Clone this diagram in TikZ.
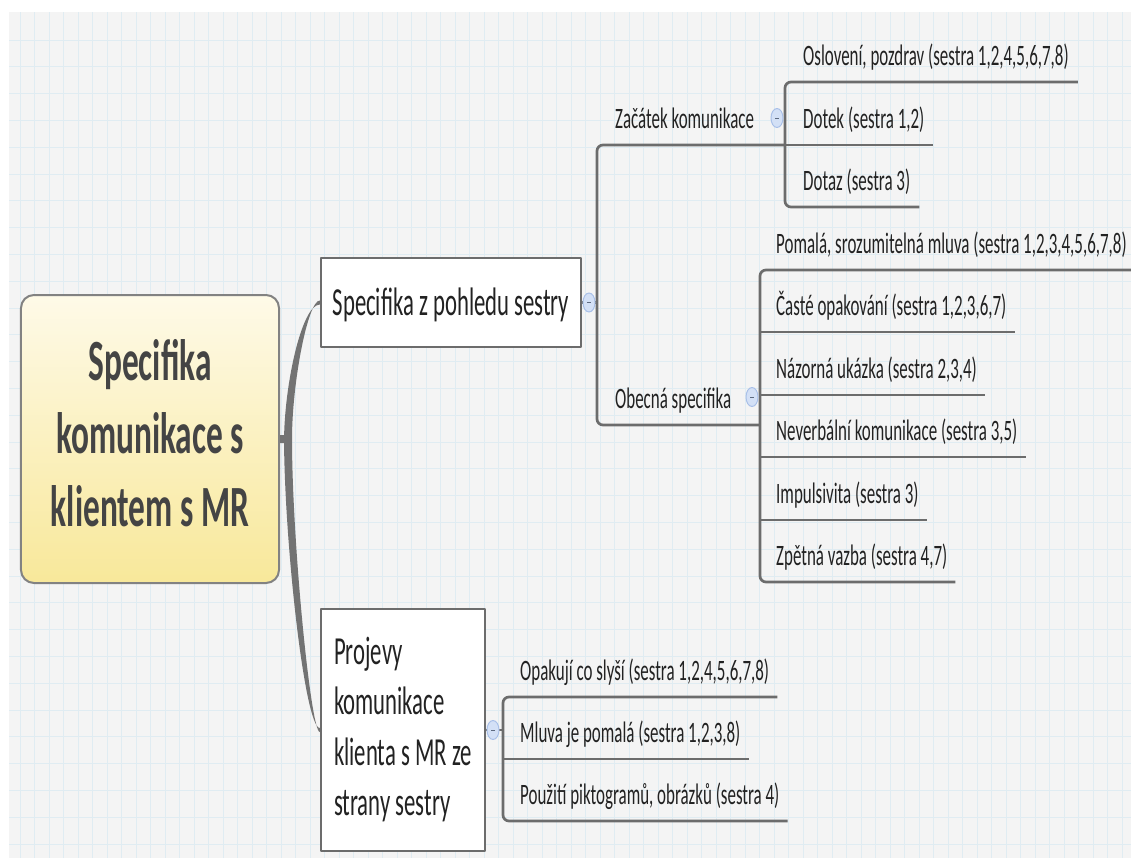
\documentclass[tikz,border=0pt]{standalone}
\usepackage{fontspec}
\setmainfont{Carlito}
\usepackage{graphicx}
\usetikzlibrary{shapes.geometric}
\definecolor{paper}{HTML}{F4F4F4}
\definecolor{gridcol}{HTML}{E0ECF2}
\definecolor{linecol}{HTML}{6C6C6C}
\definecolor{inkcol}{HTML}{222222}
\definecolor{rootink}{HTML}{444444}
\definecolor{roottop}{HTML}{FEFAE8}
\definecolor{rootbot}{HTML}{F8E89A}
\definecolor{dotfill}{HTML}{D3E0F6}
\definecolor{dotline}{HTML}{A9C0E8}
\newcommand{\vstretch}[1]{\scalebox{1}[1.75]{#1}}

\begin{document}
\begin{tikzpicture}[x=1bp,y=-1bp,line join=round,
  gridline/.style={gridcol,line width=1bp},
  trunk/.style={fill=linecol!95},
  branch/.style={linecol,line width=2.7bp,rounded corners=6bp},
  rootbox/.style={draw=linecol!85,line width=2bp,rounded corners=13bp,top color=roottop,bottom color=rootbot,
    minimum width=258bp,minimum height=288bp,text=rootink,font=\fontsize{33.5}{42}\selectfont\bfseries},
  topbox/.style={draw=linecol,line width=2.4bp,fill=white,text=inkcol,font=\fontsize{22.8}{29}\selectfont},
  sub/.style={anchor=south west,inner xsep=0pt,inner ysep=16.4bp,text height=19.2bp,text depth=0pt,
    text=inkcol,font=\fontsize{17}{20}\selectfont},
  fold/.style={ellipse,draw=dotline,fill=dotfill,line width=1bp,minimum width=12bp,minimum height=19bp,inner sep=0pt}]
  \useasboundingbox (0,0) rectangle (1131,861);
  \fill[white] (0,0) rectangle (1131,861);
  \fill[paper] (9,12) rectangle (1131,858);
  \foreach \gx in {20,34.5,...,1131} \draw[gridline] (\gx,12) -- (\gx,858);
  \foreach \gy in {40,66.8,...,858} \draw[gridline] (9,\gy) -- (1131,\gy);
%%
  % Node: root
  \node[rootbox] (root) at (150,439) {\vstretch{\begin{tabular}{@{}c@{}}Specifika\\komunikace s\\klientem s MR\end{tabular}}};
  % Node: Specifika z pohledu sestry
  \node[topbox,minimum width=260bp,minimum height=89bp,text height=25.7bp,text depth=0pt] (spec) at (451,302.5)
    {\vstretch{Specifika z pohledu sestry}};
  % Node: Projevy komunikace
  \node[topbox,minimum width=164bp,minimum height=242bp] (proj) at (403,730)
    {\vstretch{\begin{tabular}{@{}l@{}}Projevy\\komunikace\\klienta s MR ze\\strany sestry\end{tabular}}};
  % bracket columns
  \coordinate (fork) at (288,439);
  \coordinate (sbr) at (597,0);
  \coordinate (zbr) at (785,0);
  \coordinate (obr) at (760,0);
  \coordinate (pbr) at (503,0);
  % Node: Zacatek komunikace, Obecna specifika
  \node[sub] (zac) at (615,145) {\vstretch{Začátek komunikace}};
  \node[sub] (obec) at (615,425) {\vstretch{Obecná specifika}};
  % Node: Zacatek children
  \node[sub] (osl) at (803,82) {\vstretch{Oslovení, pozdrav (sestra 1,2,4,5,6,7,8)}};
  \node[sub] (dotek) at (803,145) {\vstretch{Dotek (sestra 1,2)}};
  \node[sub] (dotaz) at (803,207) {\vstretch{Dotaz (sestra 3)}};
  % Node: Obecna children
  \node[sub] (pomala) at (776,270) {\vstretch{Pomalá, srozumitelná mluva (sestra 1,2,3,4,5,6,7,8)}};
  \node[sub] (caste) at (776,332) {\vstretch{Časté opakování (sestra 1,2,3,6,7)}};
  \node[sub] (nazorna) at (776,395) {\vstretch{Názorná ukázka (sestra 2,3,4)}};
  \node[sub] (never) at (776,457) {\vstretch{Neverbální komunikace (sestra 3,5)}};
  \node[sub] (impuls) at (776,520) {\vstretch{Impulsivita (sestra 3)}};
  \node[sub] (zpetna) at (776,582) {\vstretch{Zpětná vazba (sestra 4,7)}};
  % Node: Projevy children
  \node[sub] (opak) at (520,697) {\vstretch{Opakují co slyší (sestra 1,2,4,5,6,7,8)}};
  \node[sub] (mluva) at (520,759) {\vstretch{Mluva je pomalá (sestra 1,2,3,8)}};
  \node[sub] (pouziti) at (520,821) {\vstretch{Použití piktogramů, obrázků (sestra 4)}};
%%
  % Edge: root -> spec, root -> proj (tapered)
  \fill[trunk] ([yshift=-4bp]root.east) -- ([xshift=-4bp,yshift=-4bp]fork)
    .. controls +(0,-58) and +(-18,0) .. ([yshift=-2bp]spec.west) -- ([yshift=2bp]spec.west)
    .. controls +(-12,0) and +(0,-56) .. ([xshift=4bp]fork)
    .. controls +(0,102) and +(-9,0) .. ([yshift=-2bp]proj.west) -- ([yshift=2bp]proj.west)
    .. controls +(-15,0) and +(0,106) .. ([xshift=-4bp,yshift=4bp]fork) -- ([yshift=4bp]root.east) -- cycle;
  % Edge: spec -> zac, obec
  \draw[branch] (spec.east) -- (sbr |- spec.east);
  \draw[branch] (zac.south -| zbr) -- (zac.south -| sbr) -- (obec.south -| sbr) -- (obec.south -| obr);
  % Edge: zac -> osl, dotek, dotaz
  \draw[branch] ([xshift=9bp]osl.south east) -- (osl.south -| zbr) -- (dotaz.south -| zbr) -- ([xshift=9bp]dotaz.south east);
  \draw[branch] (dotek.south -| zbr) -- ([xshift=8bp]dotek.south east);
  % Edge: obec -> children
  \draw[branch] ([xshift=8bp]pomala.south east) -- (pomala.south -| obr) -- (zpetna.south -| obr) -- ([xshift=8bp]zpetna.south east);
  \foreach \n in {caste,nazorna,never,impuls}
    \draw[branch] (\n.south -| obr) -- ([xshift=8bp]\n.south east);
  % Edge: proj -> children
  \draw[branch] (proj.east) -- (pbr |- proj.east);
  \draw[branch] ([xshift=8bp]opak.south east) -- (opak.south -| pbr) -- (pouziti.south -| pbr) -- ([xshift=8bp]pouziti.south east);
  \draw[branch] (mluva.south -| pbr) -- ([xshift=8bp]mluva.south east);
  % Node: fold markers
  \node[fold] (specdot) at (589,302.5) {\color{dotline!55!black}\rule{4bp}{0.9bp}};
  \node[fold] (zacdot) at (777,118) {\color{dotline!55!black}\rule{4bp}{0.9bp}};
  \node[fold] (obecdot) at (752,397) {\color{dotline!55!black}\rule{4bp}{0.9bp}};
  \node[fold] (projdot) at (493,730) {\color{dotline!55!black}\rule{4bp}{0.9bp}};
%
\end{tikzpicture}
\end{document}
